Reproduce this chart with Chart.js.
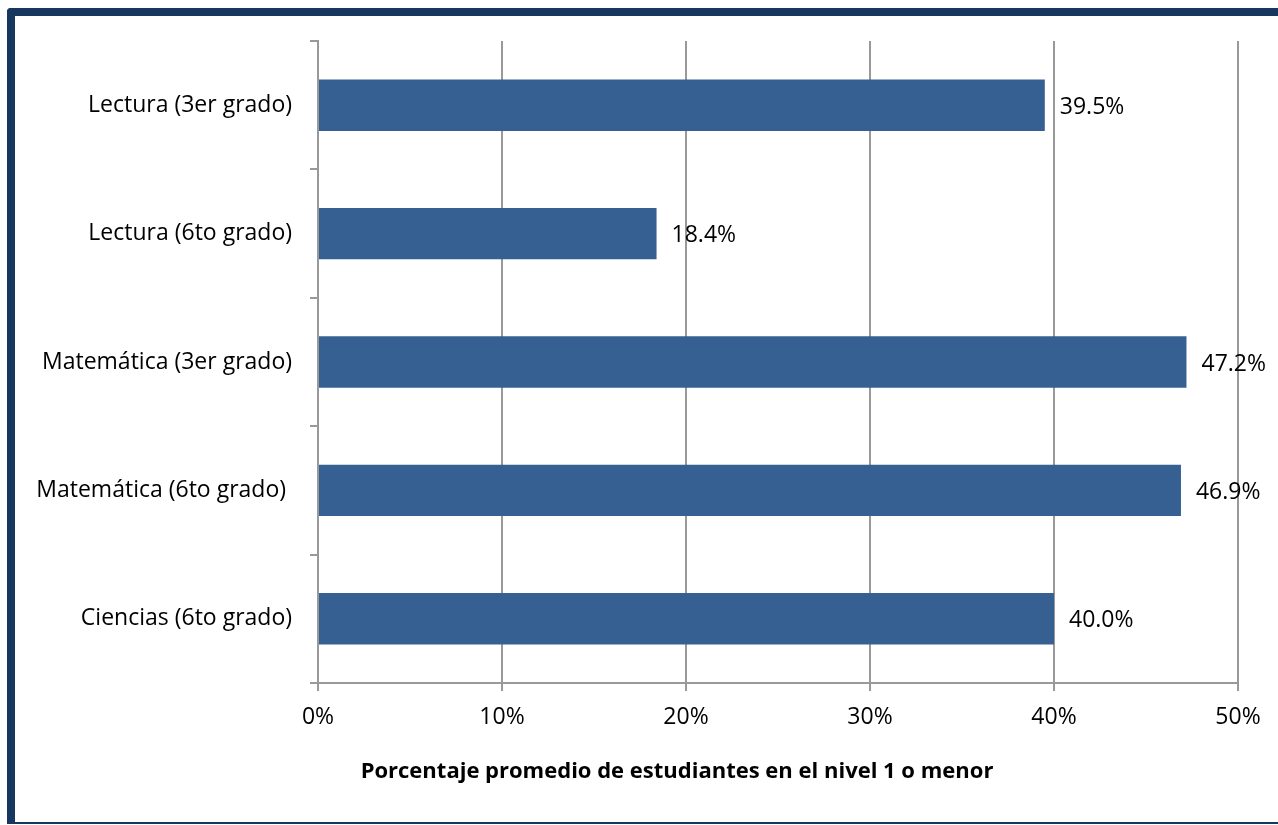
<!DOCTYPE html>
<html>
<head>
<meta charset="utf-8">
<script src="https://cdn.jsdelivr.net/npm/chart.js@4/dist/chart.umd.min.js"></script>
<style>
  html, body { margin: 0; padding: 0; background: #fff; }
  #wrap { position: relative; width: 1278px; height: 825px; overflow: hidden; }
  #frameTop { position: absolute; left: 7px; top: 8px; width: 1271px; height: 8px; background: #17375e; border-top-left-radius: 4px; }
  #frameLeft { position: absolute; left: 7px; top: 8px; width: 8px; height: 816px; background: #17375e; border-top-left-radius: 4px; }
  #frameBottom { position: absolute; left: 7px; top: 822px; width: 1271px; height: 2px; background: #17375e; }
  canvas { position: absolute; left: 0; top: 0; }
</style>
</head>
<body>
<div id="wrap">
  <canvas id="c" width="1278" height="825"></canvas>
  <div id="frameTop"></div>
  <div id="frameLeft"></div>
  <div id="frameBottom"></div>
</div>
<script>
const categories = ["Lectura (3er grado)", "Lectura (6to grado)", "Matemática (3er grado)", "Matemática (6to grado) ", "Ciencias (6to grado)"];
const values = [39.5, 18.4, 47.2, 46.9, 40.0];
const xTickValues = [0, 10, 20, 30, 40, 50];
const axisTitle = "Porcentaje promedio de estudiantes en el nivel 1 o menor";

const FONT = "'Open Sans', sans-serif";

const labelPlugin = {
  id: 'labels',
  afterDatasetsDraw(chart) {
    const ctx = chart.ctx;
    const meta = chart.getDatasetMeta(0);
    ctx.save();
    ctx.font = "23px " + FONT;
    ctx.fillStyle = "#000";
    ctx.textAlign = "left";
    ctx.textBaseline = "middle";
    meta.data.forEach((bar, i) => {
      ctx.fillText(values[i].toFixed(1) + "%", bar.x + 15, bar.y + 2);
    });
    ctx.restore();
  },
  afterDraw(chart) {
    const ctx = chart.ctx;
    ctx.save();
    ctx.font = "bold 22px " + FONT;
    ctx.fillStyle = "#000";
    ctx.textAlign = "center";
    ctx.textBaseline = "middle";
    ctx.fillText(axisTitle, 677, 772);
    ctx.restore();
  }
};

new Chart(document.getElementById('c'), {
  type: 'bar',
  data: {
    labels: categories,
    datasets: [{
      data: values,
      backgroundColor: '#376092',
      borderWidth: 0,
      categoryPercentage: 0.4,
      barPercentage: 1.0
    }]
  },
  options: {
    indexAxis: 'y',
    responsive: false,
    animation: false,
    devicePixelRatio: 1,
    layout: { padding: { left: 0, right: 40, top: 41, bottom: 0 } },
    plugins: { legend: { display: false }, tooltip: { enabled: false } },
    scales: {
      x: {
        min: 0, max: 50,
        afterBuildTicks(scale) { scale.ticks = xTickValues.map(v => ({ value: v })); },
        afterFit(scale) { scale.height = 825 - 683; },
        ticks: {
          callback: v => v + '%',
          font: { family: FONT, size: 23 },
          color: '#000',
          padding: 13
        },
        grid: { color: '#999999', lineWidth: 2, tickLength: 8, drawTicks: true },
        border: { color: '#999999', width: 2 }
      },
      y: {
        afterFit(scale) { scale.width = 318; },
        ticks: {
          font: { family: FONT, size: 23 },
          color: '#000',
          padding: 18
        },
        grid: { drawOnChartArea: false, color: '#999999', lineWidth: 2, tickLength: 8, offset: true },
        border: { color: '#999999', width: 2 }
      }
    }
  },
  plugins: [labelPlugin]
});
</script>
</body>
</html>
